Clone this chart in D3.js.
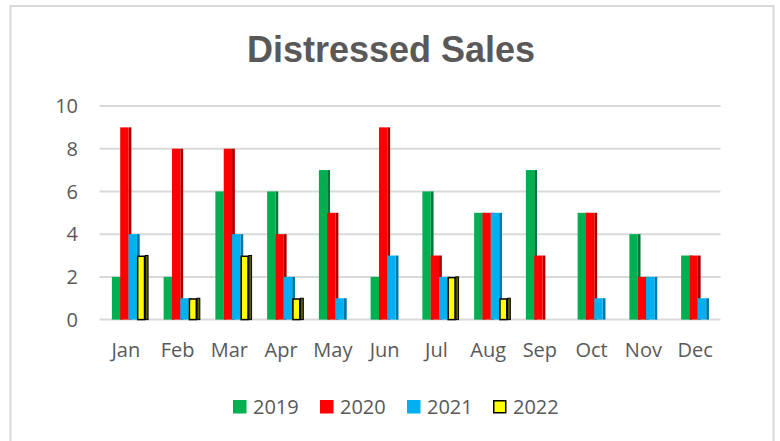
<!DOCTYPE html>
<html>
<head>
<meta charset="utf-8">
<script src="https://cdn.jsdelivr.net/npm/d3@7"></script>
<style>
  html, body { margin: 0; padding: 0; background: #fff; }
  text { font-family: "Open Sans", "Liberation Sans", sans-serif; fill: #595959; }
  .title { font-family: "Liberation Sans", Arial, sans-serif; font-weight: bold; }
</style>
</head>
<body>
<svg id="chart" width="780" height="441"></svg>
<script>
var months = ["Jan", "Feb", "Mar", "Apr", "May", "Jun", "Jul", "Aug", "Sep", "Oct", "Nov", "Dec"];
var years = ["2019", "2020", "2021", "2022"];
var sales2019 = [2, 2, 6, 6, 7, 2, 6, 5, 7, 5, 4, 3];
var sales2020 = [9, 8, 8, 4, 5, 9, 3, 5, 3, 5, 2, 3];
var sales2021 = [4, 1, 4, 2, 1, 3, 2, 5, 0, 1, 2, 1];
var sales2022 = [3, 1, 3, 1, 0, 0, 2, 1, 0, 0, 0, 0];
var yTicks = [0, 2, 4, 6, 8, 10];

var series = [sales2019, sales2020, sales2021, sales2022];
var fronts = ["#00b050", "#ff0000", "#00b0f0", "#ffff00"];
var sides = ["#00773a", "#a80000", "#0078a8", "#5c5c00"];

var svg = d3.select("#chart");

// outer frame
svg.append("rect")
    .attr("x", 10.5).attr("y", 6).attr("width", 763).attr("height", 450)
    .attr("fill", "none").attr("stroke", "#d9d9d9").attr("stroke-width", 2);

svg.append("text").attr("class", "title")
    .attr("x", 391).attr("y", 61.5)
    .attr("text-anchor", "middle")
    .style("font-size", "36px")
    .text("Distressed Sales");

var x0 = d3.scaleBand().domain(months).range([99.5, 720.5]);
var x1 = d3.scaleBand().domain(years).range([0, 33.4]);
var y = d3.scaleLinear().domain([0, 10]).range([319.6, 106]);
var groupOff = (x0.bandwidth() - 33.4) / 2 + 3.2;
var depth = 2.8;

// gridlines
svg.append("g").selectAll("line")
    .data(yTicks)
    .enter().append("line")
    .attr("x1", 99.5).attr("x2", 720.5)
    .attr("y1", function(d) { return y(d); })
    .attr("y2", function(d) { return y(d); })
    .attr("stroke", "#d9d9d9")
    .attr("stroke-width", 2);

// y labels
svg.append("g").selectAll("text")
    .data(yTicks)
    .enter().append("text")
    .attr("x", 78)
    .attr("y", function(d) { return y(d); })
    .attr("dy", "0.36em")
    .attr("text-anchor", "end")
    .style("font-size", "20px")
    .text(function(d) { return d; });

// month labels
svg.append("g").selectAll("text")
    .data(months)
    .enter().append("text")
    .attr("x", function(d) { return x0(d) + x0.bandwidth() / 2 + 0.5; })
    .attr("y", 357)
    .attr("text-anchor", "middle")
    .style("font-size", "20px")
    .text(function(d) { return d; });

// bars, drawn left to right so each front covers the previous side
var bars = svg.append("g");
months.forEach(function(m, i) {
    years.forEach(function(yr, j) {
        var v = series[j][i];
        if (!v) return;
        var bx = x0(m) + groupOff + x1(yr);
        var bw = x1.bandwidth();
        var top = y(v), h = y(0) - y(v);
        var isOutlined = (j == 3);
        bars.append("rect")
            .attr("x", bx + bw).attr("y", top)
            .attr("width", depth).attr("height", h)
            .attr("fill", sides[j])
            .attr("stroke", isOutlined ? "#000" : "none")
            .attr("stroke-width", 1);
        bars.append("rect")
            .attr("x", bx + (isOutlined ? 0.75 : 0)).attr("y", top + (isOutlined ? 0.75 : 0))
            .attr("width", bw - (isOutlined ? 1.5 : 0)).attr("height", h - (isOutlined ? 0.75 : 0))
            .attr("fill", fronts[j])
            .attr("stroke", isOutlined ? "#000" : "none")
            .attr("stroke-width", 1.5);
    });
});

// legend
var legendX = [233, 320, 407, 493];
var legend = svg.append("g").selectAll("g")
    .data(years)
    .enter().append("g")
    .attr("transform", function(d, i) { return "translate(" + legendX[i] + ",400)"; });

legend.append("rect")
    .attr("x", function(d, i) { return i == 3 ? 0.75 : 0; })
    .attr("y", function(d, i) { return i == 3 ? 0.75 : 0; })
    .attr("width", function(d, i) { return i == 3 ? 12 : 13.5; })
    .attr("height", function(d, i) { return i == 3 ? 12 : 13.5; })
    .attr("fill", function(d, i) { return fronts[i]; })
    .attr("stroke", function(d, i) { return i == 3 ? "#000" : "none"; })
    .attr("stroke-width", 1.5);

legend.append("text")
    .attr("x", 20)
    .attr("y", 7)
    .attr("dy", "0.36em")
    .style("font-size", "20px")
    .text(function(d) { return d; });
</script>
</body>
</html>
